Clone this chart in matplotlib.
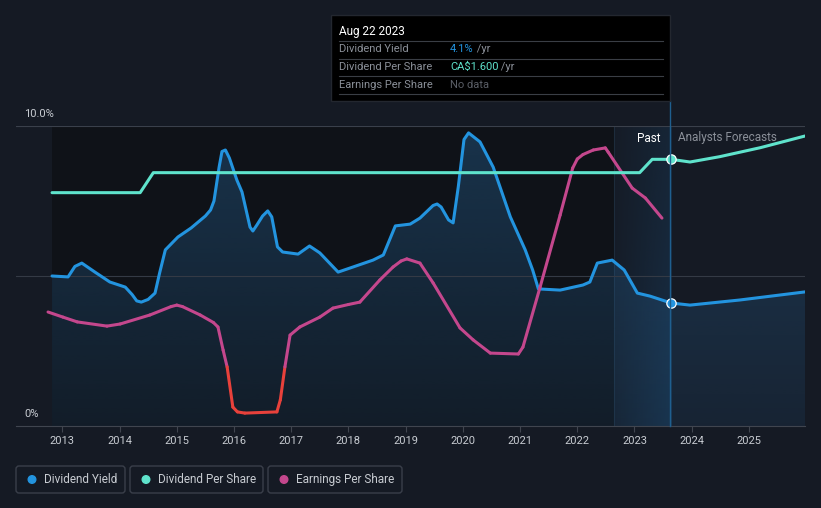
import numpy as np
import matplotlib
matplotlib.use("Agg")
import matplotlib.pyplot as plt
from matplotlib.collections import LineCollection
from matplotlib.patches import FancyBboxPatch, Rectangle, Circle

plt.rcParams['font.family'] = ['Roboto', 'DejaVu Sans']

# ---- data (x in decimal years) ----
yield_years = [2012.82, 2013.10, 2013.22, 2013.34, 2013.57, 2013.83, 2014.10, 2014.22,
               2014.30, 2014.38, 2014.50, 2014.62, 2014.70, 2014.80, 2015.02, 2015.25,
               2015.50, 2015.59, 2015.65, 2015.74, 2015.79, 2015.85, 2015.92, 2016.05,
               2016.14, 2016.28, 2016.33, 2016.40, 2016.50, 2016.59, 2016.66, 2016.76,
               2016.85, 2017.12, 2017.32, 2017.50, 2017.82, 2018.08, 2018.43, 2018.61,
               2018.82, 2019.08, 2019.25, 2019.48, 2019.55, 2019.62, 2019.75, 2019.83,
               2019.92, 2020.02, 2020.10, 2020.18, 2020.30, 2020.53, 2020.83, 2021.09,
               2021.22, 2021.32, 2021.70, 2022.10, 2022.22, 2022.35, 2022.61, 2022.82,
               2023.05, 2023.27, 2023.64, 2023.97, 2024.84, 2025.98]
yield_pct = [5.00, 4.97, 5.32, 5.43, 5.13, 4.80, 4.63, 4.38,
             4.17, 4.13, 4.22, 4.43, 5.10, 5.87, 6.30, 6.60,
             7.00, 7.20, 7.50, 8.63, 9.15, 9.20, 8.93, 8.20,
             7.80, 6.63, 6.50, 6.70, 7.00, 7.17, 6.97, 5.97,
             5.80, 5.73, 6.00, 5.77, 5.13, 5.30, 5.53, 5.70,
             6.67, 6.73, 6.93, 7.35, 7.40, 7.30, 6.87, 6.77,
             7.97, 9.55, 9.77, 9.65, 9.47, 8.63, 6.97, 5.87,
             5.20, 4.57, 4.53, 4.70, 4.80, 5.43, 5.53, 5.20,
             4.43, 4.33, 4.10, 4.03, 4.20, 4.47]

dps_years = [2012.82, 2014.36, 2014.59, 2023.09, 2023.31, 2023.64, 2023.97,
             2024.49, 2025.20, 2025.98]
dps_cad = [1.40, 1.40, 1.52, 1.52, 1.60, 1.60, 1.584, 1.616, 1.67, 1.74]

# earnings per share, shown on its own (unlabelled) scale, 0-10 = axis height
eps_years = [2012.75, 2013.01, 2013.26, 2013.78, 2014.01, 2014.53, 2014.90, 2015.00,
             2015.10, 2015.41, 2015.64, 2015.72, 2015.81, 2015.88, 2015.98, 2016.06,
             2016.19, 2016.75, 2016.81, 2016.89, 2016.98, 2017.15, 2017.50, 2017.73,
             2018.00, 2018.20, 2018.55, 2018.78, 2018.92, 2019.02, 2019.25, 2019.48,
             2019.95, 2020.18, 2020.48, 2020.97, 2021.05, 2021.35, 2021.70, 2021.92,
             2022.00, 2022.10, 2022.28, 2022.49, 2022.54, 2022.96, 2023.19, 2023.48]
eps_scaled = [3.80, 3.63, 3.47, 3.33, 3.40, 3.70, 3.98, 4.03,
              3.98, 3.70, 3.45, 3.30, 2.53, 1.97, 0.63, 0.47,
              0.43, 0.47, 0.87, 1.97, 3.03, 3.30, 3.63, 3.93,
              4.05, 4.13, 4.87, 5.30, 5.50, 5.57, 5.43, 4.77,
              3.27, 2.87, 2.43, 2.40, 2.63, 4.63, 7.03, 8.60,
              8.90, 9.05, 9.20, 9.27, 9.13, 7.93, 7.60, 6.93]

year_ticks = list(range(2013, 2026))
now_year = 2023.64
past_start, highlight_start = 2012.82, 2022.64

BG = '#151a24'
BLUE = '#2394df'
TEAL = '#5fe3cc'
MAGENTA = '#c4478d'
RED = '#e8413b'
TXT = '#c8ccd2'

W, H = 821, 508
fig = plt.figure(figsize=(W / 100, H / 100), dpi=100, facecolor=BG)

# main axes: x from px 16 to 805, y from px 426 (0%) to 126 (10%)
ax = fig.add_axes([16 / W, (H - 426) / H, 789 / W, 300 / H])
ax.set_facecolor(BG)
ax.set_xlim(2012.19, 2025.98)
ax.set_ylim(0, 10)

# past region and last-year highlight
ax.add_patch(Rectangle((past_start, 0), highlight_start - past_start, 10,
                       color='#0f1218', zorder=0, lw=0))
hl = np.zeros((64, 64, 4))
hl[..., :3] = matplotlib.colors.to_rgb('#1c5a8e')
hx = np.linspace(0.05, 0.30, 64).reshape(1, -1)
hy = np.linspace(0.6, 1.0, 64).reshape(-1, 1)
hl[..., 3] = hx * hy
ax.imshow(hl, extent=(highlight_start, now_year, 0, 10), aspect='auto', zorder=0.5,
          interpolation='bilinear')
ax.plot([highlight_start, highlight_start], [0, 10], color='#1d2c3c', lw=0.8, zorder=0.6)

# gradient fill under dividend yield
fill = ax.fill_between(yield_years, yield_pct, 0, color='none', lw=0, zorder=1)
g = np.zeros((128, 1, 4))
g[..., :3] = matplotlib.colors.to_rgb('#2a6fa8')
g[..., 3] = np.linspace(0.36, 0.12, 128).reshape(-1, 1)
im = ax.imshow(g, extent=(2012.19, 2025.98, 0, 10), aspect='auto', zorder=1,
               interpolation='bilinear')
im.set_clip_path(fill.get_paths()[0], transform=ax.transData)

ax.axhline(5, color='#343a45', lw=0.8, zorder=1.5)
ax.axhline(10, color='#3a404b', lw=0.8, zorder=1.5)

# lines
ax.plot(yield_years, yield_pct, color=BLUE, lw=2.2, zorder=3,
        solid_capstyle='round', solid_joinstyle='round')

ax2 = ax.twinx()
ax2.set_ylim(0, 1.8)
ax2.axis('off')
ax2.plot(dps_years, dps_cad, color=TEAL, lw=2.2, zorder=3,
         solid_capstyle='round', solid_joinstyle='round')
ax2.scatter([now_year], [1.60], s=45, color=TEAL, edgecolor='white', lw=0.9, zorder=5)

pts = np.column_stack([eps_years, eps_scaled])
segs = np.stack([pts[:-1], pts[1:]], axis=1)
cols = [RED if (a + b) / 2 < 2.2 else MAGENTA for a, b in zip(eps_scaled[:-1], eps_scaled[1:])]
ax2.add_collection(LineCollection([[(x, y * 0.18) for x, y in s] for s in segs],
                                  colors=cols, lw=2.2, capstyle='round',
                                  joinstyle='round', zorder=2.5))

ax.scatter([now_year], [4.10], s=45, color=BLUE, edgecolor='white', lw=0.9, zorder=5)

# axis styling
for s in ['top', 'right', 'left']:
    ax.spines[s].set_visible(False)
ax.spines['bottom'].set_color('#40454f')
ax.set_yticks([])
ax.set_xticks(year_ticks)
ax.set_xticklabels([str(y) for y in year_ticks])
ax.tick_params(axis='x', colors='#40454f', labelcolor=TXT, labelsize=8, length=4, pad=3)

# overlay in pixel coordinates
ov = fig.add_axes([0, 0, 1, 1], facecolor='none')
ov.set_xlim(0, W)
ov.set_ylim(H, 0)
ov.axis('off')

ov.text(24, 114, '10.0%', color=TXT, fontsize=8, va='center')
ov.text(24, 414, '0%', color=TXT, fontsize=8, va='center')
ov.plot([670, 670], [101, 426], color='#1f5f8f', lw=1, zorder=2)
ov.text(661, 138, 'Past', color='white', fontsize=8.5, ha='right', va='center')
ov.text(678, 138, 'Analysts Forecasts', color='#8b9099', fontsize=8.5, va='center')

# tooltip
ov.add_patch(Rectangle((331, 15), 339, 86, facecolor='black', edgecolor='#23272f', lw=1, zorder=4))
ov.text(339, 31, 'Aug 22 2023', color='white', fontsize=8.5, va='center', zorder=5)
for yy in [41, 59, 76, 94]:
    ov.plot([339, 663], [yy, yy], color='#3a3e45', lw=0.8, zorder=5)
rows = [('Dividend Yield', '4.1%', BLUE, ' /yr'),
        ('Dividend Per Share', 'CA$1.600', TEAL, ' /yr'),
        ('Earnings Per Share', 'No data', '#5a5e66', '')]
for i, (lab, val, c, unit) in enumerate(rows):
    yy = 49 + i * 18
    ov.text(339, yy, lab, color='#8b9099', fontsize=8, va='center', zorder=5)
    t = ov.text(450, yy, val, color=c, fontsize=8, va='center', zorder=5)
    if unit:
        ov.annotate(unit, xycoords=t, xy=(1, 0.5), va='center', color='#8b9099',
                    fontsize=8, zorder=5)

# legend boxes
legend = [('Dividend Yield', BLUE, 16, 109), ('Dividend Per Share', TEAL, 130, 133),
          ('Earnings Per Share', MAGENTA, 268, 134)]
for lab, c, x0, w in legend:
    ov.add_patch(FancyBboxPatch((x0, 466), w, 27, boxstyle='round,pad=0,rounding_size=3',
                                facecolor='none', edgecolor='#3a3f4a', lw=1))
    ov.add_patch(Circle((x0 + 16, 479.5), 3.8, color=c))
    ov.text(x0 + 28, 479.5, lab, color=TXT, fontsize=8.5, va='center')

fig.savefig('out.png', dpi=100, facecolor=BG)
